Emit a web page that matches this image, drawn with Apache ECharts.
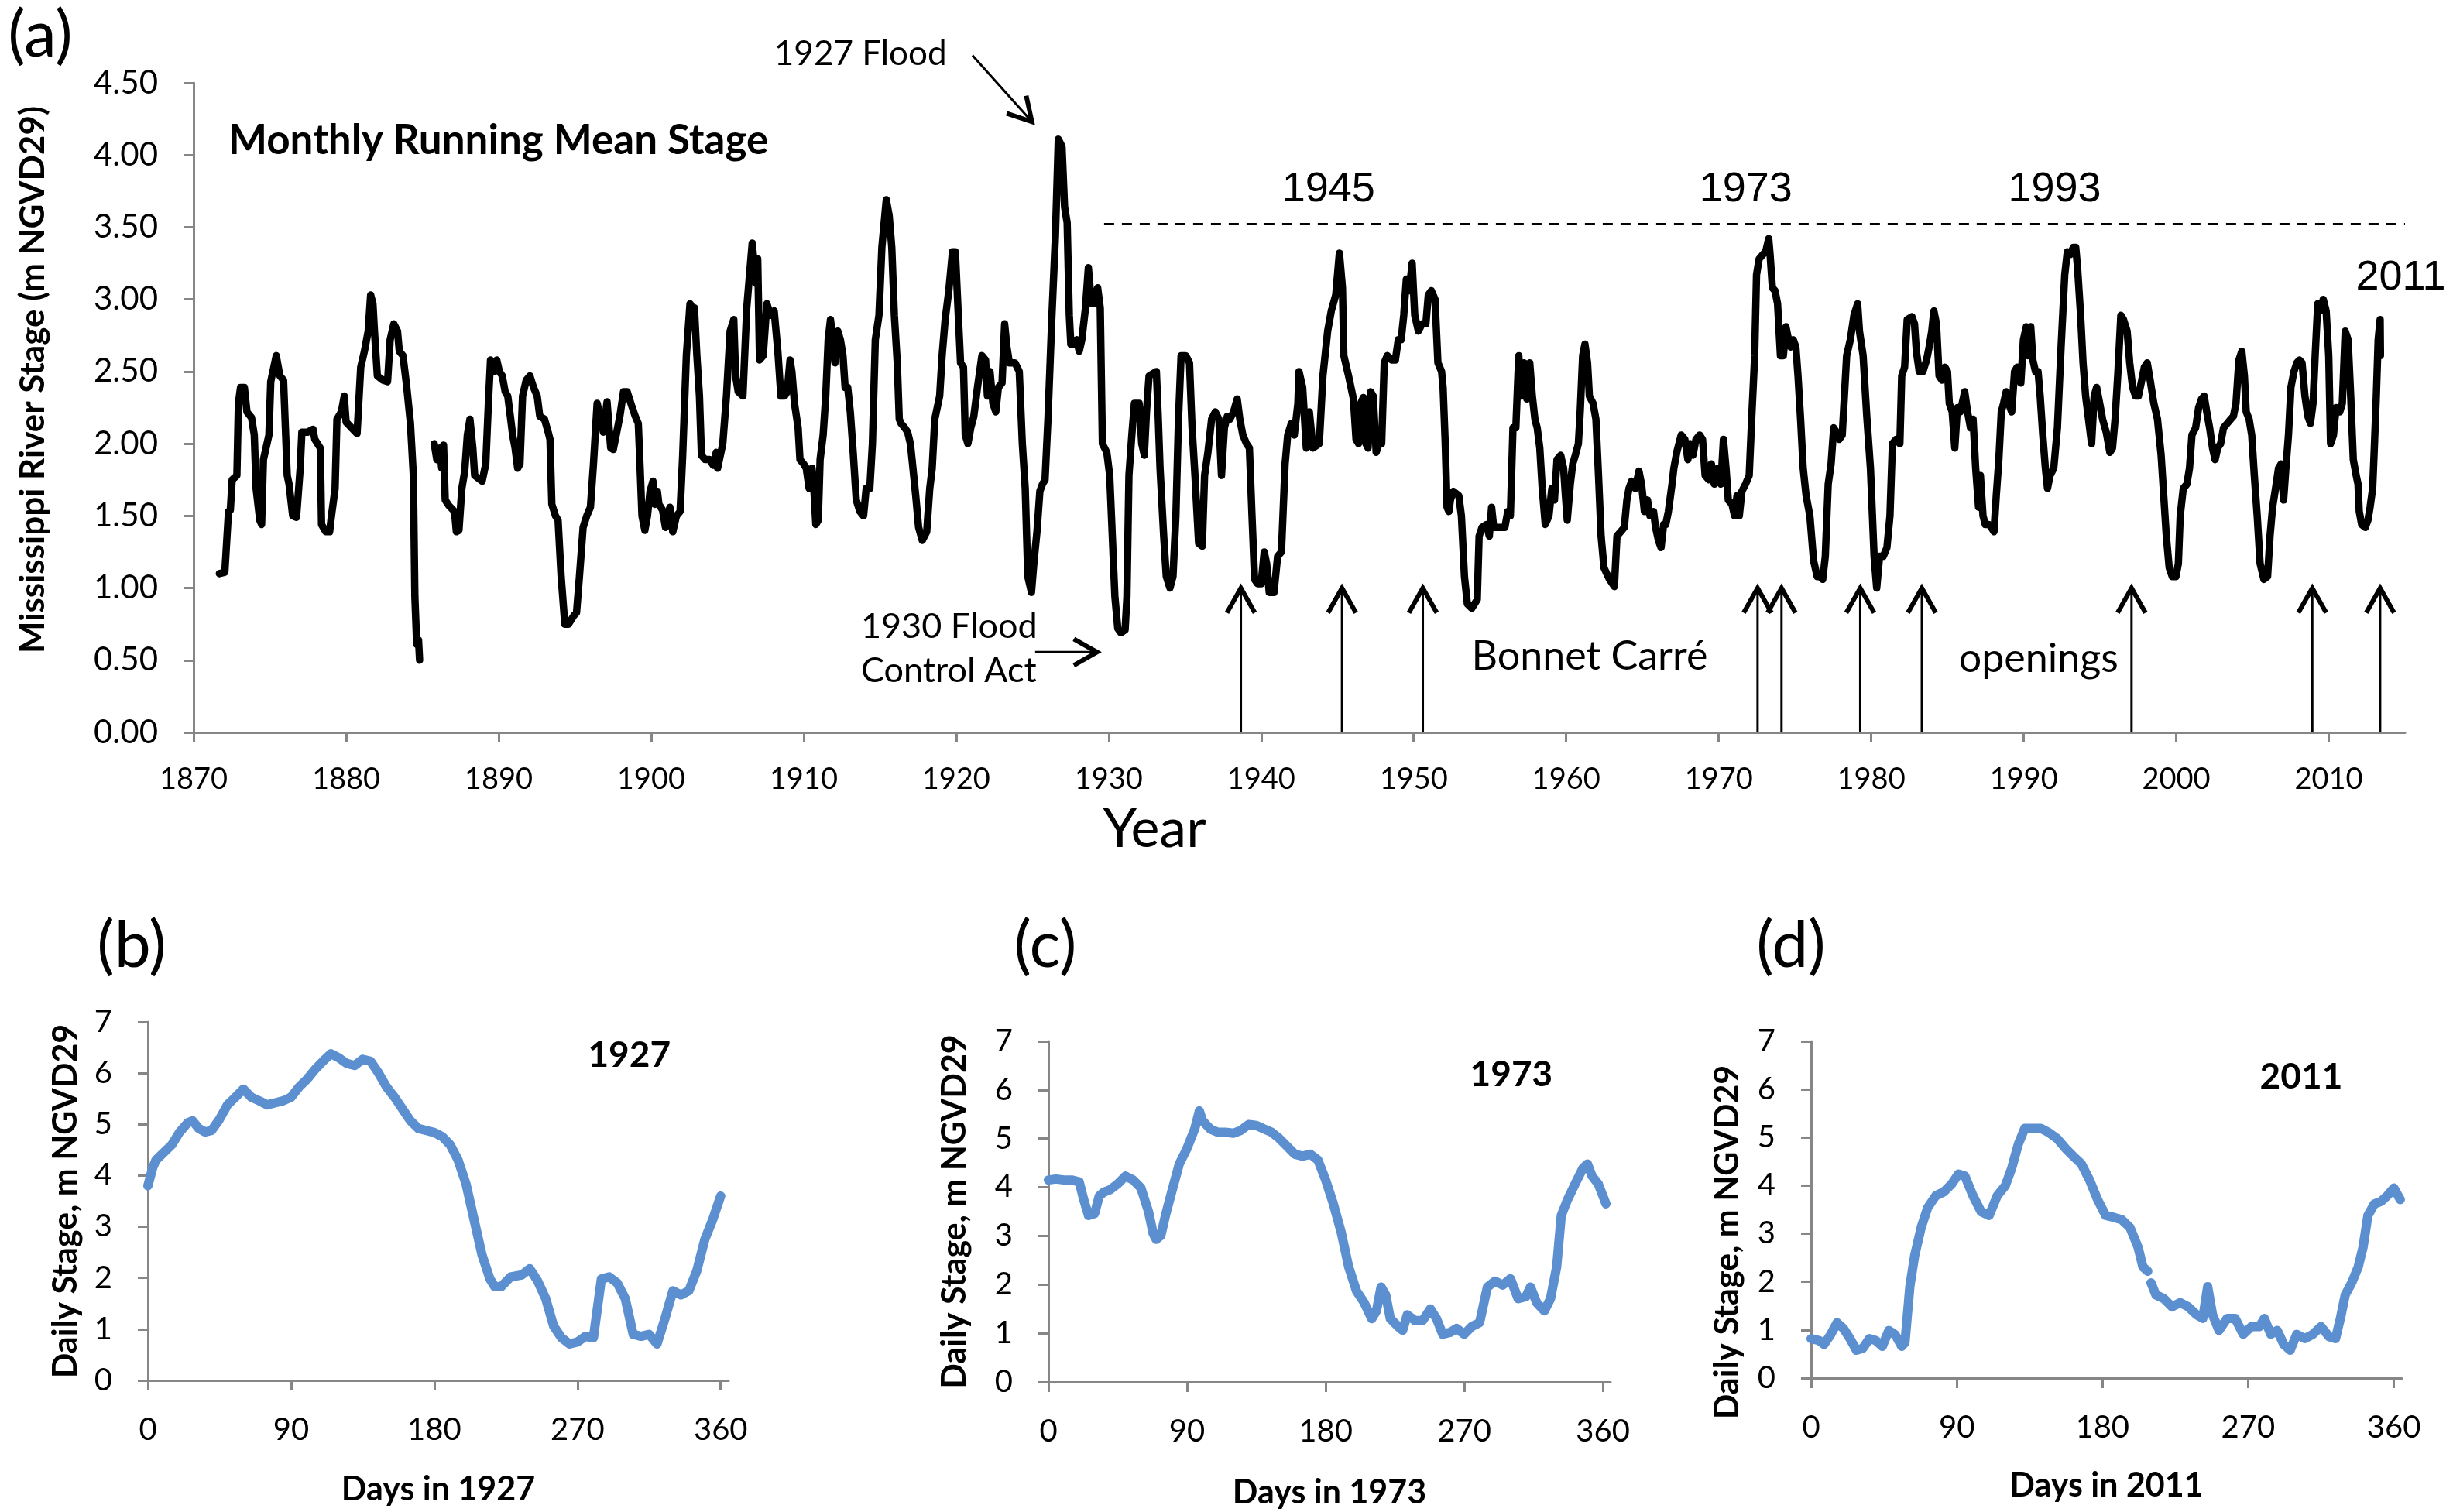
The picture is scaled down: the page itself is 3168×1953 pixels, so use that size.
<!DOCTYPE html>
<html><head><meta charset="utf-8">
<script src="https://cdn.jsdelivr.net/npm/echarts@6/dist/echarts.min.js"></script>
<style>html,body{margin:0;padding:0;background:#fff}#c{width:3168px;height:1953px}</style>
</head><body><div id="c"></div>
<script>
// ---------- Panel (a): monthly running mean stage ----------
const yearsA = [
1871.69,1872.05,1872.29,1872.41,1872.53,1872.84,1872.94,1873.08,1873.33,1873.50,1873.80,1873.98,1874.10,1874.34,1874.46,1874.58,1874.94,1875.06,1875.42,1875.66,1875.90,1876.14,1876.26,1876.50,1876.75,1876.99,1877.10,1877.47,1877.83,1877.95,1878.31,1878.39,1878.67,1878.92,1879.04,1879.28,1879.40,1879.69,1879.88,1880.00,1880.36,1880.72,1880.96,1881.20,1881.45,1881.61,1881.76,1881.86,1882.05,1882.41,1882.72,1882.89,1883.13,1883.37,1883.49,1883.73,1883.98,1884.22,1884.41,1884.51,1884.63,1884.75,1884.82,
1885.30,
1885.78,1885.95,1886.14,1886.27,1886.39,1886.50,1886.75,1887.11,1887.23,1887.40,1887.59,1887.78,1887.95,1888.12,1888.31,1888.43,1888.67,1888.92,1889.16,1889.33,1889.47,1889.71,1889.88,1890.05,1890.24,1890.43,1890.60,1890.77,1890.92,1891.08,1891.25,1891.40,1891.57,1891.81,1892.05,1892.29,1892.53,1892.70,1893.01,1893.25,1893.37,1893.49,1893.73,1893.90,1894.10,1894.34,1894.58,1894.94,1895.11,1895.30,1895.54,1895.78,1896.02,1896.22,1896.46,1896.70,1896.87,1897.11,1897.35,1897.52,1897.71,1897.95,1898.19,1898.43,1898.67,1898.96,1899.16,1899.28,1899.40,1899.59,1899.76,1899.93,1900.12,1900.24,1900.41,1900.51,1900.75,1900.94,1901.23,1901.42,1901.66,1901.90,1902.07,1902.31,1902.55,1902.72,1902.84,1903.00,1903.17,1903.30,1903.54,1903.83,1904.08,1904.27,1904.36,1904.70,1904.94,1905.18,1905.42,1905.54,1905.71,1906.02,
1906.27,1906.63,1906.87,1906.99,1907.11,1907.35,1907.59,1907.83,1908.07,1908.31,1908.51,1908.75,1908.92,1909.11,1909.23,1909.40,1909.64,1909.76,1910.00,1910.17,1910.36,1910.55,1910.67,1910.80,1910.96,1911.08,1911.28,1911.45,1911.61,1911.76,1911.93,1912.05,1912.24,1912.41,1912.58,1912.72,1912.89,1913.06,1913.25,1913.45,1913.69,1913.93,1914.10,1914.34,1914.51,1914.70,1914.94,1915.13,1915.42,1915.61,1915.78,1915.95,1916.14,1916.27,1916.39,1916.63,1916.82,1917.00,1917.11,1917.35,1917.54,1917.78,1918.07,1918.27,1918.43,1918.60,1918.92,1919.08,1919.28,1919.52,1919.76,1919.95,1920.12,1920.29,1920.48,1920.60,1920.77,1920.96,1921.16,1921.40,1921.69,1921.93,1922.05,1922.22,1922.41,1922.60,1922.77,1923.01,1923.18,1923.33,1923.49,1923.86,1924.14,1924.34,1924.53,1924.70,1924.94,1925.11,1925.30,1925.49,1925.66,1925.83,1926.02,1926.27,1926.51,1926.70,1926.94,1927.11,1927.28,1927.42,1927.52,1927.71,1927.90,1928.07,1928.24,1928.48,1928.67,1928.87,1929.11,1929.28,1929.45,1929.59,1929.88,1930.07,1930.24,1930.41,1930.60,1930.80,1931.08,1931.20,1931.33,1931.52,1931.69,1932.00,1932.17,1932.34,1932.48,1932.65,1933.13,1933.25,1933.37,1933.61,1933.78,1934.02,1934.22,1934.41,1934.58,1934.75,1935.06,1935.30,1935.47,1935.66,1935.90,1936.14,1936.29,1936.51,1936.75,1936.99,1937.23,1937.40,1937.59,1937.78,1937.95,1938.19,1938.43,1938.60,1938.80,1939.04,1939.23,1939.40,1939.57,1939.76,1940.00,1940.20,1940.36,1940.53,1940.84,1941.08,1941.33,1941.57,1941.74,1941.98,1942.17,1942.41,
1942.48,1942.72,1942.96,1943.16,1943.40,1943.81,1944.05,1944.36,1944.60,1944.89,1945.13,1945.33,1945.42,1945.73,1946.05,1946.22,1946.39,1946.53,1946.70,1946.87,1947.01,1947.18,1947.35,1947.54,1947.73,1947.90,1948.07,1948.27,1948.55,1948.80,1948.99,1949.18,1949.35,1949.52,1949.71,1949.90,1950.07,1950.31,1950.55,1950.80,1950.96,1951.16,1951.40,1951.59,1951.83,1951.93,1952.07,1952.19,1952.31,1952.41,1952.60,1952.96,1953.13,1953.33,1953.52,1953.81,1954.17,1954.29,1954.48,1954.77,1954.96,1955.11,1955.25,1955.61,1955.98,1956.17,1956.34,1956.51,1956.70,1956.89,1957.06,1957.23,1957.42,1957.61,1957.78,1957.95,1958.10,1958.27,1958.43,1958.63,1958.87,1959.06,1959.23,1959.40,1959.64,1959.83,1959.95,1960.07,1960.27,1960.43,1960.60,1960.80,1960.92,1961.08,1961.23,1961.40,1961.52,1961.76,1961.95,1962.12,1962.29,1962.48,1962.84,1963.16,1963.33,1963.57,1963.81,1963.98,1964.12,1964.29,1964.53,1964.77,1964.94,1965.13,1965.33,1965.49,1965.73,1965.86,1966.05,1966.22,1966.39,1966.53,1966.70,1966.94,1967.06,1967.25,1967.54,1967.78,1967.98,1968.14,1968.31,1968.51,1968.75,1968.94,1969.11,1969.35,1969.52,1969.71,1969.95,1970.14,1970.31,1970.48,1970.63,1970.87,1971.04,1971.20,1971.35,1971.52,1971.76,1972.00,1972.17,1972.36,1972.48,1972.65,1972.89,1973.08,1973.28,1973.37,1973.52,1973.69,1973.86,1974.05,1974.24,1974.41,1974.58,1974.72,1974.89,1975.06,1975.20,1975.37,1975.54,1975.73,1975.98,1976.22,1976.46,1976.65,1976.82,1976.99,1977.18,1977.37,1977.54,1977.71,1977.90,1978.10,1978.39,1978.63,1978.87,1979.11,1979.23,
1979.47,1979.71,1979.95,1980.19,1980.36,1980.55,1980.79,1981.03,1981.23,1981.39,1981.63,1981.88,1982.00,1982.19,1982.36,1982.67,1982.84,1982.96,1983.15,1983.39,1983.63,1983.80,1983.97,1984.11,1984.28,1984.45,1984.64,1984.83,1985.00,1985.12,1985.31,1985.48,1985.65,1985.84,1986.13,1986.32,1986.51,1986.68,1986.85,1987.04,1987.16,1987.33,1987.48,1987.72,1987.88,1988.05,1988.20,1988.37,1988.53,1988.68,1988.85,1989.01,1989.21,1989.40,1989.57,1989.81,1989.98,1990.17,1990.29,1990.46,1990.60,1990.77,1990.94,1991.08,1991.25,1991.42,1991.56,1991.73,1991.97,1992.21,1992.45,1992.69,1992.86,1993.05,1993.25,1993.41,1993.53,1993.73,1993.89,1994.06,1994.25,1994.45,1994.62,1994.78,1994.98,1995.17,1995.41,1995.65,1995.82,1995.99,1996.18,1996.37,1996.54,1996.78,1996.95,1997.14,1997.33,1997.52,1997.74,1997.91,1998.10,1998.29,1998.53,1998.77,1999.01,1999.18,1999.35,1999.54,1999.74,1999.98,2000.14,2000.26,2000.46,2000.70,2000.87,2001.03,2001.27,2001.47,2001.66,2001.83,2002.00,2002.19,2002.38,2002.55,2002.72,2002.91,2003.10,2003.34,2003.58,2003.75,2003.92,2004.11,2004.30,2004.47,2004.59,2004.78,2004.95,2005.12,2005.31,2005.50,2005.75,2005.99,2006.15,2006.32,2006.51,2006.71,2006.88,2007.04,2007.19,2007.36,2007.52,2007.72,2007.91,2008.08,2008.25,2008.44,2008.63,2008.80,2008.97,2009.11,2009.28,2009.45,2009.64,2009.83,2010.00,2010.12,2010.31,2010.48,2010.72,2010.89,2011.08,2011.27,2011.44,2011.61,2011.80,2011.92,2012.00,2012.16,2012.40,2012.57,2012.71,2012.88,2013.00,2013.12,2013.24,2013.37,2013.39
];
const stageA = [
1.10,1.11,1.53,1.54,1.75,1.78,2.28,2.39,2.39,2.22,2.18,2.06,1.69,1.47,1.44,1.89,2.06,2.43,2.61,2.47,2.44,1.78,1.72,1.50,1.49,1.83,2.08,2.08,2.10,2.03,1.97,1.44,1.39,1.39,1.50,1.69,2.17,2.22,2.33,2.15,2.11,2.07,2.53,2.64,2.78,3.03,2.97,2.78,2.47,2.44,2.43,2.72,2.83,2.78,2.64,2.61,2.39,2.14,1.78,0.94,0.61,0.64,0.50,
null,
2.00,1.89,1.97,1.83,1.99,1.61,1.57,1.53,1.39,1.40,1.69,1.81,2.06,2.17,1.97,1.78,1.76,1.74,1.86,2.28,2.58,2.50,2.58,2.50,2.47,2.36,2.33,2.19,2.06,1.97,1.83,1.86,2.33,2.44,2.47,2.39,2.33,2.19,2.17,2.08,2.03,1.58,1.50,1.47,1.08,0.75,0.75,0.81,0.83,1.08,1.42,1.50,1.56,1.86,2.28,2.17,2.08,2.29,1.97,1.96,2.06,2.19,2.36,2.36,2.28,2.19,2.14,1.83,1.50,1.40,1.50,1.67,1.74,1.58,1.67,1.58,1.54,1.42,1.56,1.39,1.50,1.53,1.92,2.61,2.97,2.94,2.94,2.61,2.33,1.92,1.89,1.89,1.85,1.94,1.83,2.00,2.33,2.78,2.86,2.47,2.36,2.33,
2.94,3.39,3.11,3.28,2.58,2.61,2.97,2.89,2.92,2.64,2.33,2.33,2.36,2.58,2.50,2.28,2.11,1.89,1.86,1.83,1.69,1.83,1.69,1.44,1.47,1.89,2.06,2.33,2.72,2.86,2.72,2.56,2.78,2.72,2.61,2.39,2.39,2.22,1.94,1.61,1.53,1.50,1.69,1.69,2.00,2.72,2.89,3.36,3.69,3.58,3.36,2.89,2.56,2.17,2.14,2.11,2.08,2.00,1.89,1.64,1.42,1.33,1.39,1.69,1.83,2.17,2.33,2.61,2.86,3.06,3.33,3.33,2.94,2.56,2.53,2.06,2.00,2.11,2.19,2.39,2.61,2.58,2.33,2.50,2.28,2.22,2.39,2.42,2.83,2.67,2.56,2.56,2.50,2.00,1.69,1.08,0.97,1.19,1.39,1.67,1.72,1.75,2.17,2.86,3.44,4.11,4.06,3.64,3.53,2.89,2.69,2.69,2.72,2.64,2.72,2.94,3.22,2.97,2.97,3.08,2.94,2.00,1.94,1.78,1.36,0.94,0.72,0.69,0.71,0.94,1.78,2.06,2.28,2.28,2.00,1.92,2.22,2.47,2.50,2.19,1.83,1.36,1.08,1.00,1.08,1.50,2.17,2.61,2.61,2.56,2.11,1.78,1.31,1.29,1.78,1.94,2.17,2.22,2.17,1.78,2.11,2.19,2.17,2.22,2.31,2.17,2.06,2.00,1.97,1.50,1.06,1.03,1.03,1.25,1.17,0.97,0.97,1.22,1.25,1.86,2.06,2.14,2.06,2.28,
2.50,2.39,1.97,2.22,1.97,2.00,2.47,2.78,2.92,3.03,3.32,3.08,2.61,2.47,2.31,2.03,2.00,2.28,2.32,2.00,1.97,2.36,2.33,1.94,2.00,2.00,2.56,2.61,2.58,2.58,2.72,2.72,2.89,3.14,3.06,3.25,2.89,2.78,2.83,2.83,3.03,3.06,3.00,2.56,2.50,2.39,2.00,1.56,1.53,1.61,1.67,1.64,1.50,1.08,0.89,0.86,0.92,1.36,1.42,1.44,1.36,1.56,1.42,1.42,1.42,1.53,1.50,2.11,2.11,2.61,2.33,2.56,2.31,2.56,2.33,2.17,2.11,1.97,1.69,1.44,1.50,1.69,1.61,1.89,1.92,1.83,1.64,1.47,1.72,1.86,1.92,2.00,2.22,2.61,2.69,2.56,2.33,2.28,2.17,1.78,1.36,1.14,1.06,1.01,1.36,1.39,1.42,1.61,1.69,1.74,1.69,1.81,1.72,1.53,1.61,1.50,1.53,1.42,1.33,1.28,1.44,1.44,1.53,1.72,1.83,1.94,2.06,2.03,1.89,2.00,1.92,2.03,2.06,2.03,1.78,1.75,1.86,1.72,1.83,1.72,2.03,1.83,1.61,1.58,1.50,1.64,1.50,1.67,1.72,1.78,2.19,2.61,3.17,3.28,3.31,3.33,3.42,3.31,3.08,3.06,2.97,2.61,2.61,2.81,2.72,2.67,2.72,2.67,2.47,2.17,1.83,1.64,1.50,1.19,1.08,1.08,1.06,1.22,1.72,1.86,2.11,2.08,2.03,2.06,2.61,2.72,2.89,2.97,2.78,
2.61,2.19,1.83,1.22,1.00,1.22,1.22,1.28,1.50,2.00,2.03,2.00,2.47,2.53,2.86,2.88,2.83,2.64,2.50,2.50,2.58,2.67,2.78,2.92,2.83,2.47,2.44,2.53,2.50,2.28,2.22,1.97,2.25,2.22,2.36,2.22,2.11,2.17,1.83,1.56,1.78,1.50,1.44,1.44,1.42,1.39,1.64,1.89,2.22,2.28,2.36,2.28,2.22,2.50,2.53,2.42,2.72,2.81,2.61,2.81,2.58,2.50,2.50,2.33,2.06,1.83,1.69,1.78,1.83,2.11,2.67,3.17,3.33,3.31,3.36,3.36,3.22,2.89,2.56,2.33,2.17,2.00,2.33,2.39,2.28,2.17,2.08,1.94,1.97,2.17,2.50,2.89,2.86,2.78,2.56,2.39,2.33,2.33,2.44,2.53,2.56,2.44,2.28,2.17,1.92,1.64,1.36,1.14,1.08,1.08,1.17,1.50,1.69,1.72,1.83,2.06,2.11,2.25,2.31,2.33,2.22,2.11,1.97,1.89,1.97,2.00,2.11,2.14,2.17,2.19,2.28,2.58,2.64,2.47,2.22,2.17,2.06,1.78,1.50,1.17,1.06,1.08,1.36,1.56,1.69,1.83,1.86,1.61,1.83,2.06,2.39,2.50,2.56,2.58,2.56,2.33,2.19,2.14,2.28,2.61,2.97,2.92,3.00,2.92,2.61,2.00,2.06,2.25,2.22,2.28,2.78,2.72,2.33,1.89,1.78,1.72,1.53,1.44,1.42,1.47,1.56,1.69,2.00,2.33,2.72,2.86,2.61
];
const xTicksA = [1870,1880,1890,1900,1910,1920,1930,1940,1950,1960,1970,1980,1990,2000,2010];
const openingYears = [1938.67,1945.3,1950.6,1972.55,1974.12,1979.28,1983.32,1997.07,2008.92,2013.37];
const refLevel = 3.52;            // dashed reference line
const refLineYears = [1929.7, 2015];

// ---------- Panels (b)-(d): daily stage ----------
const dayTicks = [0,90,180,270,360];
const daysB = [0,3,5,10,15,20,25,28,32,36,40,45,50,55,60,65,70,75,80,85,90,95,100,105,110,115,120,125,130,135,140,145,150,155,160,165,170,175,180,185,190,195,200,205,210,215,218,222,228,235,240,245,250,255,260,265,270,275,280,285,290,295,300,305,310,315,320,325,330,335,340,345,350,355,360];
const stageB = [3.8,4.15,4.3,4.45,4.6,4.85,5.03,5.07,4.92,4.85,4.88,5.1,5.38,5.53,5.69,5.53,5.46,5.38,5.42,5.46,5.53,5.73,5.88,6.07,6.23,6.38,6.3,6.19,6.15,6.27,6.23,6.0,5.73,5.53,5.3,5.07,4.92,4.88,4.84,4.76,4.6,4.3,3.83,3.14,2.45,1.98,1.83,1.83,2.02,2.06,2.18,1.94,1.6,1.06,0.83,0.71,0.75,0.86,0.83,1.98,2.02,1.9,1.6,0.9,0.86,0.9,0.71,1.21,1.75,1.67,1.75,2.14,2.75,3.14,3.6];
const daysC = [0,5,10,15,20,23,26,30,33,36,40,45,50,55,60,65,68,70,73,76,80,85,90,95,98,100,105,110,115,120,125,130,135,140,145,150,155,160,165,170,175,180,185,190,195,200,205,210,213,216,219,222,227,230,233,238,243,248,252,256,261,265,270,275,280,285,290,295,300,305,310,313,317,322,326,330,333,337,342,347,350,353,357,362];
const stageC = [4.15,4.17,4.15,4.15,4.11,3.74,3.42,3.46,3.82,3.9,3.95,4.07,4.23,4.15,3.99,3.5,3.05,2.93,3.01,3.42,3.9,4.48,4.8,5.2,5.57,5.37,5.2,5.13,5.13,5.11,5.17,5.29,5.27,5.2,5.13,5.0,4.84,4.68,4.64,4.68,4.56,4.15,3.66,3.09,2.36,1.87,1.63,1.3,1.46,1.95,1.79,1.3,1.14,1.06,1.38,1.26,1.26,1.5,1.3,0.98,1.02,1.1,0.98,1.14,1.22,1.95,2.07,1.99,2.12,1.71,1.75,1.95,1.63,1.46,1.71,2.36,3.42,3.74,4.07,4.39,4.48,4.23,4.07,3.66];
const daysD = [0,5,8,12,16,20,24,28,32,36,40,44,48,52,56,58,61,64,68,72,77,82,87,91,95,100,105,110,115,120,124,128,132,137,142,147,152,157,162,167,172,177,182,187,192,197,202,205,208,209,210,213,218,223,228,233,238,242,245,248,252,257,262,267,272,277,280,284,288,292,296,300,305,310,315,320,324,327,330,334,338,341,344,348,352,356,360,364];
const stageD = [0.82,0.78,0.7,0.9,1.15,1.03,0.82,0.58,0.62,0.82,0.78,0.66,0.99,0.9,0.66,0.74,1.9,2.55,3.13,3.54,3.79,3.87,4.04,4.24,4.2,3.79,3.46,3.38,3.79,4.0,4.37,4.86,5.19,5.19,5.19,5.1,4.98,4.78,4.61,4.45,4.12,3.71,3.38,3.34,3.29,3.13,2.72,2.31,2.22,null,1.98,1.73,1.65,1.48,1.57,1.48,1.32,1.24,1.9,1.32,0.99,1.24,1.24,0.91,1.07,1.07,1.24,0.91,0.99,0.7,0.58,0.91,0.82,0.91,1.07,0.86,0.82,1.24,1.73,1.98,2.31,2.72,3.38,3.62,3.67,3.79,3.95,3.71];

const zip = (xs, ys) => xs.map((x, i) => [x, ys[i]]);

const GRAY = '#868686';
const FONT = 'Lato';
function xAxisCfg(grid, min, max, ticks, name, nameGap, nameSize, nameBold, labelSize, labelMargin, namePad) {
  return {
    type: 'value', gridIndex: grid, min: min, max: max,
    name: name, nameLocation: 'middle', nameGap: nameGap,
    nameTextStyle: {fontFamily: FONT, fontSize: nameSize, fontWeight: nameBold ? 'bold' : 'normal', color: '#000', padding: namePad || 0},
    axisLine: {show: true, onZero: false, lineStyle: {color: GRAY, width: 3}},
    axisTick: {show: true, inside: false, length: 13, customValues: ticks, lineStyle: {color: GRAY, width: 3}},
    axisLabel: {show: true, customValues: ticks, margin: labelMargin, fontFamily: FONT, fontSize: labelSize, color: '#000', formatter: v => String(v)},
    splitLine: {show: false}
  };
}
function yAxisCfg(grid, min, max, interval, name, nameGap, nameSize, labelSize, labelMargin, fmt, namePad) {
  return {
    type: 'value', gridIndex: grid, min: min, max: max, interval: interval,
    name: name, nameLocation: 'middle', nameGap: nameGap, nameRotate: 90,
    nameTextStyle: {fontFamily: FONT, fontSize: nameSize, fontWeight: 'bold', color: '#000', padding: namePad || 0},
    axisLine: {show: true, onZero: false, lineStyle: {color: GRAY, width: 3}},
    axisTick: {show: true, inside: false, length: 13, lineStyle: {color: GRAY, width: 3}},
    axisLabel: {show: true, margin: labelMargin, fontFamily: FONT, fontSize: labelSize, color: '#000', formatter: fmt},
    splitLine: {show: false}
  };
}

const chart = echarts.init(document.getElementById('c'), null, {renderer: 'canvas', width: 3168, height: 1953});
const BLUE = '#5b8fcf';
const option = {
  animation: false,
  backgroundColor: '#ffffff',
  grid: [
    {left: 250, top: 107, width: 2856, height: 839, outerBoundsMode: 'none'},
    {left: 191, top: 1320, width: 750, height: 463, outerBoundsMode: 'none'},
    {left: 1354, top: 1345, width: 726, height: 440, outerBoundsMode: 'none'},
    {left: 2339, top: 1345, width: 763, height: 435, outerBoundsMode: 'none'}
  ],
  xAxis: [
    xAxisCfg(0, 1870, 2015, xTicksA, 'Year', 90, 70, false, 38, 42, [0, 374, 0, 0]),
    xAxisCfg(1, 0, 365, dayTicks, 'Days in 1927', 120, 43, true, 40, 44),
    xAxisCfg(2, 0, 365, dayTicks, 'Days in 1973', 122, 43, true, 40, 44),
    xAxisCfg(3, 0, 365, dayTicks, 'Days in 2011', 118, 43, true, 40, 44)
  ],
  yAxis: [
    yAxisCfg(0, 0, 4.5, 0.5, 'Mississippi River Stage (m NGVD29)', 185, 44, 42, 46, v => v.toFixed(2), [0, 0, 0, 72]),
    yAxisCfg(1, 0, 7, 1, 'Daily Stage, m NGVD29', 84, 43, 40, 46, v => String(v)),
    yAxisCfg(2, 0, 7, 1, 'Daily Stage, m NGVD29', 99, 43, 40, 46, v => String(v)),
    yAxisCfg(3, 0, 7, 1, 'Daily Stage, m NGVD29', 86, 43, 40, 46, v => String(v), [0, 84, 0, 0])
  ],
  series: [
    {
      type: 'line', xAxisIndex: 0, yAxisIndex: 0, data: zip(yearsA, stageA),
      showSymbol: false, symbol: 'none', connectNulls: false, clip: false,
      lineStyle: {color: '#000', width: 9.5, join: 'round', cap: 'round'},
      markLine: {
        silent: true, symbol: ['none', 'none'], label: {show: false},
        lineStyle: {color: '#000', width: 3, type: [13, 10]},
        data: [[{coord: [refLineYears[0], refLevel]}, {coord: [refLineYears[1], refLevel]}]]
      }
    },
    {type: 'line', xAxisIndex: 1, yAxisIndex: 1, data: zip(daysB, stageB), showSymbol: false, symbol: 'none',
     lineStyle: {color: BLUE, width: 12, join: 'round', cap: 'round'}},
    {type: 'line', xAxisIndex: 2, yAxisIndex: 2, data: zip(daysC, stageC), showSymbol: false, symbol: 'none',
     lineStyle: {color: BLUE, width: 12, join: 'round', cap: 'round'}},
    {type: 'line', xAxisIndex: 3, yAxisIndex: 3, data: zip(daysD, stageD), showSymbol: false, symbol: 'none', connectNulls: false,
     lineStyle: {color: BLUE, width: 12, join: 'round', cap: 'round'}}
  ]
};
chart.setOption(option);

// ---------- annotations, anchored in data coordinates ----------
const P = (g, x, y) => chart.convertToPixel({gridIndex: g}, [x, y]);
function txt(g, x, y, text, font, align) {
  const p = P(g, x, y);
  const a = align || 'center';
  return {type: 'text', x: p[0], y: p[1], z: 100,
    style: {text: text, font: font, fill: '#000', align: a, verticalAlign: 'middle', textAlign: a, textVerticalAlign: 'middle'}};
}
function arrow(g, from, to, shaftW, headW, L, W) {
  const a = P(g, from[0], from[1]), b = P(g, to[0], to[1]);
  const dx = b[0] - a[0], dy = b[1] - a[1], len = Math.hypot(dx, dy);
  const ux = dx / len, uy = dy / len, nx = -uy, ny = ux;
  return [
    {type: 'line', z: 100, shape: {x1: a[0], y1: a[1], x2: b[0] - ux * 2, y2: b[1] - uy * 2}, style: {stroke: '#000', lineWidth: shaftW}},
    {type: 'polyline', z: 100, shape: {points: [[b[0] - ux * L + nx * W, b[1] - uy * L + ny * W], [b[0], b[1]], [b[0] - ux * L - nx * W, b[1] - uy * L - ny * W]]},
     style: {stroke: '#000', lineWidth: headW, fill: null, lineJoin: 'miter'}}
  ];
}
const ann = [];
ann.push(txt(0, 1872.28, 4.10, 'Monthly Running Mean Stage', 'bold 53px Lato', 'left'));
ann.push(txt(0, 1908.07, 4.70, '1927 Flood', '44px Lato', 'left'));
ann.push(...arrow(0, [1921.07, 4.69], [1924.97, 4.23], 3, 6, 30, 17));
ann.push(txt(0, 1944.42, 3.76, '1945', '54px "Liberation Sans"'));
ann.push(txt(0, 1971.78, 3.76, '1973', '54px "Liberation Sans"'));
ann.push(txt(0, 1992.03, 3.76, '1993', '54px "Liberation Sans"'));
ann.push(txt(0, 2014.72, 3.15, '2011', '54px "Liberation Sans"'));
ann.push(txt(0, 1913.76, 0.734, '1930 Flood', '45px Lato', 'left'));
ann.push(txt(0, 1913.76, 0.427, 'Control Act', '45px Lato', 'left'));
ann.push(...arrow(0, [1925.18, 0.556], [1929.24, 0.556], 3, 6, 30, 17));
ann.push(txt(0, 1953.8, 0.524, 'Bonnet Carré', '52px Lato', 'left'));
ann.push(txt(0, 1985.74, 0.51, 'openings', '52px Lato', 'left'));
openingYears.forEach(yr => ann.push(...arrow(0, [yr, 0], [yr, 1.0], 3, 6, 32, 18)));
ann.push(txt(1, 302.6, 6.35, '1927', 'bold 46px Lato'));
ann.push(txt(2, 300.6, 6.31, '1973', 'bold 46px Lato'));
ann.push(txt(3, 302.8, 6.26, '2011', 'bold 46px Lato'));
// panel letters (layout)
[['(a)', 52, 46], ['(b)', 170, 1222], ['(c)', 1350, 1222], ['(d)', 2313, 1222]].forEach(l => {
  ann.push({type: 'text', x: l[1], y: l[2], z: 100,
    style: {text: l[0], font: '84px Lato', fill: '#000', align: 'center', verticalAlign: 'middle', textAlign: 'center', textVerticalAlign: 'middle'}});
});
chart.setOption({graphic: {elements: ann}});
</script>
</body></html>
